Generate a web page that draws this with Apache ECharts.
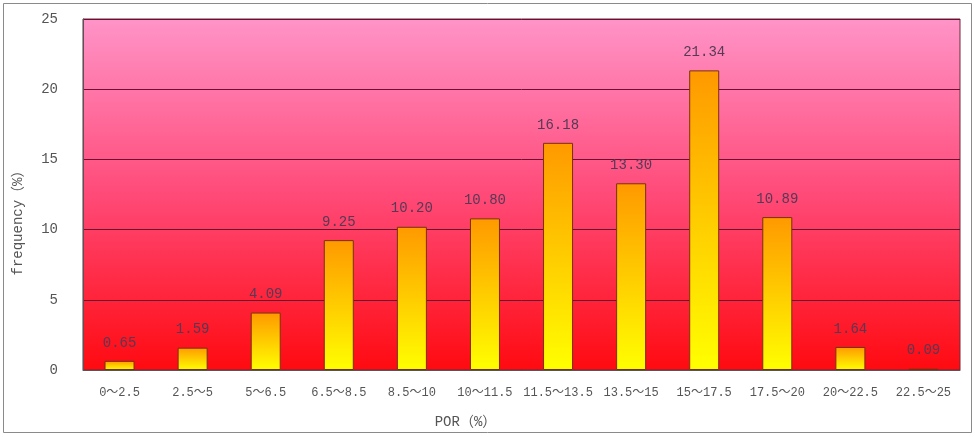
<!DOCTYPE html>
<html>
<head>
<meta charset="utf-8">
<script src="https://cdn.jsdelivr.net/npm/echarts@6/dist/echarts.min.js"></script>
<style>
  html, body { margin: 0; padding: 0; background: #fff; }
  #chart { width: 975px; height: 437px; }
</style>
</head>
<body>
<div id="chart"></div>
<script>
// POR class intervals and their frequency (%)
const categories = ['0～2.5', '2.5～5', '5～6.5', '6.5～8.5', '8.5～10', '10～11.5',
  '11.5～13.5', '13.5～15', '15～17.5', '17.5～20', '20～22.5', '22.5～25'];
const frequency = [0.65, 1.59, 4.09, 9.25, 10.20, 10.80, 16.18, 13.30, 21.34, 10.89, 1.64, 0.09];
const yTicks = { min: 0, max: 25, interval: 5 };

const chart = echarts.init(document.getElementById('chart'));
const monoFont = '"Liberation Mono", "Noto Sans CJK SC", monospace';

chart.setOption({
  animation: false,
  grid: {
    left: 83, right: 15, top: 19, bottom: 67,
    show: true,
    borderColor: '#6e2a3c',
    borderWidth: 1,
    backgroundColor: new echarts.graphic.LinearGradient(0, 0, 0, 1, [
      { offset: 0, color: '#ff94c8' },
      { offset: 0.5, color: '#ff4a78' },
      { offset: 1, color: '#ff0a10' }
    ])
  },
  graphic: [{
    type: 'rect',
    shape: { x: 3.5, y: 3.5, width: 968, height: 429 },
    style: { fill: 'none', stroke: '#8a8a8a', lineWidth: 1 },
    z: 100
  }],
  xAxis: {
    type: 'category',
    data: categories,
    name: 'POR（%）',
    nameLocation: 'middle',
    nameGap: 45,
    nameTextStyle: { color: '#555', fontSize: 14, fontFamily: monoFont, padding: [0, 112, 0, 0] },
    axisLine: { lineStyle: { color: '#555' } },
    axisTick: { show: false },
    axisLabel: { color: '#555', fontSize: 12, fontFamily: monoFont, margin: 17, interval: 0 }
  },
  yAxis: {
    type: 'value',
    min: yTicks.min, max: yTicks.max, interval: yTicks.interval,
    name: 'frequency（%）',
    nameLocation: 'middle',
    nameGap: 58,
    nameRotate: 90,
    nameTextStyle: { color: '#555', fontSize: 14, fontFamily: monoFont, padding: [0, 50, 0, 0] },
    axisLine: { show: true, lineStyle: { color: '#555' } },
    axisTick: { show: false },
    axisLabel: { color: '#555', fontSize: 14, fontFamily: monoFont, margin: 25 },
    splitLine: { lineStyle: { color: '#6b1030', width: 1 } }
  },
  series: [{
    type: 'bar',
    data: frequency,
    barWidth: 30,
    itemStyle: {
      color: new echarts.graphic.LinearGradient(0, 0, 0, 1, [
        { offset: 0, color: '#ff9900' },
        { offset: 1, color: '#ffff00' }
      ]),
      borderColor: '#7a3010',
      borderWidth: 1
    },
    label: {
      show: true,
      position: 'top',
      distance: 11,
      formatter: p => p.value.toFixed(2),
      color: '#553a55',
      fontSize: 14,
      fontFamily: monoFont
    }
  }]
});
</script>
</body>
</html>
